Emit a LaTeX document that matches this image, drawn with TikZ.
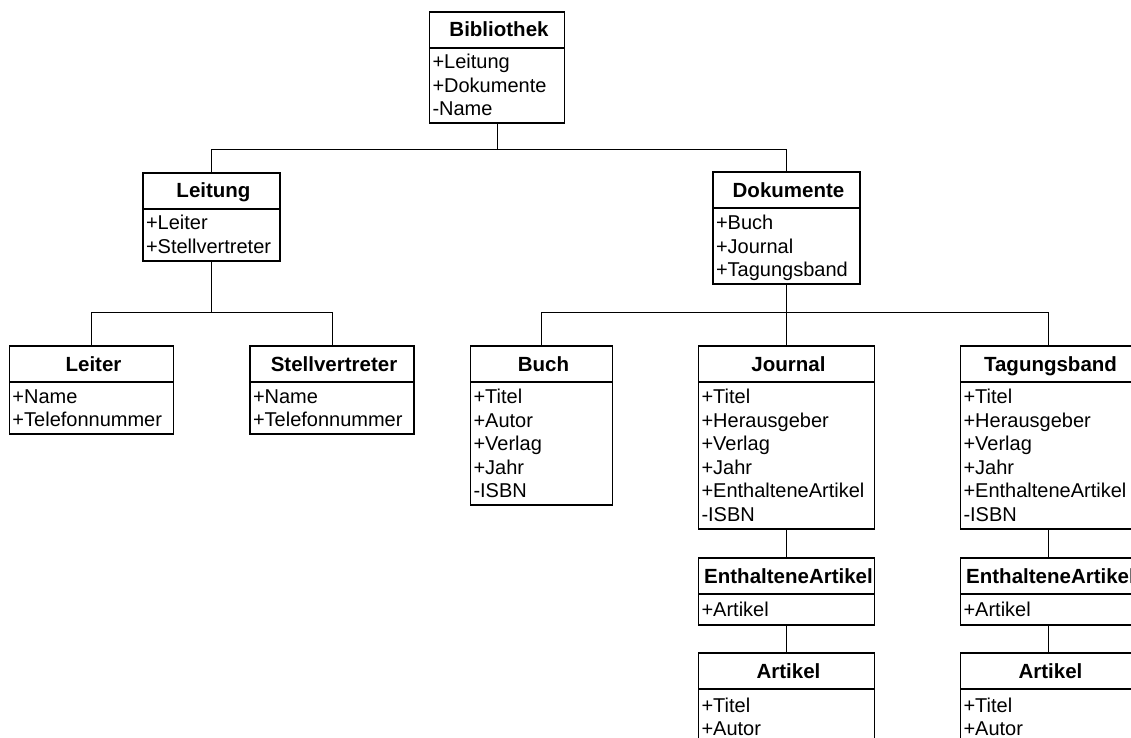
\documentclass[tikz,border=0pt]{standalone}
\usepackage{fontspec}
\setmainfont{Liberation Sans}
\usetikzlibrary{positioning}
\newcommand{\st}{\rule[-4.75pt]{0pt}{23.5pt}}
\tikzset{
  cls/.style={draw, line width=1.7pt, outer sep=0pt, inner xsep=0pt, minimum height=36pt,
    text height=16pt, text depth=2pt, font=\fontsize{20.5}{23.5}\selectfont\bfseries,
    execute at begin node={\hspace*{4pt}}},
  attrs/.style={draw, line width=1.7pt, outer sep=0pt, inner xsep=3pt, inner ysep=2pt,
    align=left, font=\fontsize{20}{23.5}\selectfont},
  link/.style={line width=1pt}
}
\begin{document}
\begin{tikzpicture}[x=1pt,y=-1pt]
    \useasboundingbox (0,0) rectangle (1131,737);
    \clip (0,0) rectangle (1131,737);

        % Bibliothek
        \node[cls, minimum width=135pt] (bib) at (497,29.7) {Bibliothek};
        \node[attrs, text width=129pt, minimum height=75pt, below=0pt of bib] (bibA) {\st+Leitung\\\st+Dokumente\\\st-Name};

        % Leitung
        \node[cls, minimum width=137pt] (leit) at (211.5,190.7) {Leitung};
        \node[attrs, text width=131pt, minimum height=52pt, below=0pt of leit] (leitA) {\st+Leiter\\\st+Stellvertreter};

        \node[cls, minimum width=164pt] (leiter) at (91.5,364) {Leiter};
        \node[attrs, text width=158pt, minimum height=52pt, below=0pt of leiter] (leiterA) {\st+Name\\\st+Telefonnummer};

        \node[cls, minimum width=164pt] (stell) at (332,364) {Stellvertreter};
        \node[attrs, text width=158pt, minimum height=52pt, below=0pt of stell] (stellA) {\st+Name\\\st+Telefonnummer};

        % Dokumente
        \node[cls, minimum width=147pt] (dok) at (786.5,190.3) {Dokumente};
        \node[attrs, text width=141pt, minimum height=76pt, below=0pt of dok] (dokA) {\st+Buch\\\st+Journal\\\st+Tagungsband};

        \node[cls, minimum width=142pt] (buch) at (541.5,364) {Buch};
        \node[attrs, text width=136pt, minimum height=123pt, below=0pt of buch] (buchA) {\st+Titel\\\st+Autor\\\st+Verlag\\\st+Jahr\\\st-ISBN};

        \node[cls, minimum width=176pt] (jour) at (786.5,364) {Journal};
        \node[attrs, text width=170pt, minimum height=147pt, below=0pt of jour] (jourA) {\st+Titel\\\st+Herausgeber\\\st+Verlag\\\st+Jahr\\\st+EnthalteneArtikel\\\st-ISBN};

        \node[cls, minimum width=176pt] (tag) at (1048.5,364) {Tagungsband};
        \node[attrs, text width=170pt, minimum height=147pt, below=0pt of tag] (tagA) {\st+Titel\\\st+Herausgeber\\\st+Verlag\\\st+Jahr\\\st+EnthalteneArtikel\\\st-ISBN};

        % EnthalteneArtikel / Artikel
        \node[cls, minimum width=176pt] (jenth) at (786.5,576.3) {EnthalteneArtikel};
        \node[attrs, text width=170pt, minimum height=31pt, below=0pt of jenth] (jenthA) {\st+Artikel};
        \node[cls, minimum width=176pt] (jart) at (786.5,671.3) {Artikel};
        \node[attrs, text width=170pt, minimum height=55pt, below=0pt of jart] (jartA) {\st+Titel\\\st+Autor};

        \node[cls, minimum width=176pt] (tenth) at (1048.5,576.3) {EnthalteneArtikel};
        \node[attrs, text width=170pt, minimum height=31pt, below=0pt of tenth] (tenthA) {\st+Artikel};
        \node[cls, minimum width=176pt] (tart) at (1048.5,671.3) {Artikel};
        \node[attrs, text width=170pt, minimum height=55pt, below=0pt of tart] (tartA) {\st+Titel\\\st+Autor};

        % connectors
        \draw[link] (bibA.south) -- ++(0,26.3) -| (leit.north);
        \draw[link] (bibA.south) -- ++(0,26.3) -| (dok.north);
        \draw[link] (leitA.south) -- ++(0,51.7) -| (leiter.north);
        \draw[link] (leitA.south) -- ++(0,51.7) -| (stell.north);
        \draw[link] (dokA.south) -- ++(0,27.7) -| (buch.north);
        \draw[link] (dokA.south) -- (jour.north);
        \draw[link] (dokA.south) -- ++(0,27.7) -| (tag.north);
        \draw[link] (jourA.south) -- (jenth.north);
        \draw[link] (jenthA.south) -- (jart.north);
        \draw[link] (tagA.south) -- (tenth.north);
        \draw[link] (tenthA.south) -- (tart.north);
        
\end{tikzpicture}
\end{document}
